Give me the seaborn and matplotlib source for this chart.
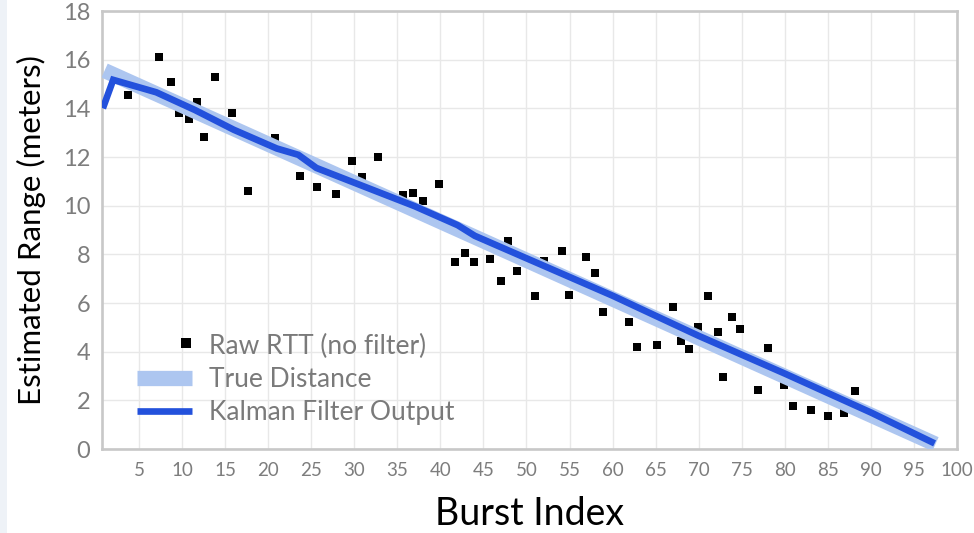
import matplotlib
matplotlib.use("Agg")
import matplotlib.pyplot as plt
from matplotlib.patches import Rectangle
from matplotlib.legend_handler import HandlerPathCollection
import seaborn as sns
import pandas as pd

# ---- data ----
raw_x = [3.7, 7.3, 8.7, 9.6, 10.85, 11.7, 12.5, 13.8, 15.8, 17.6, 20.8, 23.7, 25.7,
         27.85, 29.75, 30.9, 32.8, 35.7, 36.8, 38.0, 39.8, 41.65, 42.9, 43.9, 45.8,
         47.0, 47.9, 48.9, 50.95, 52.0, 54.1, 54.9, 56.9, 57.9, 58.9, 61.95, 62.85,
         65.1, 67.0, 67.9, 68.9, 69.9, 71.1, 72.2, 72.8, 73.9, 74.8, 76.9, 78.0,
         79.9, 80.95, 83.0, 85.0, 86.9, 88.1]
raw_y = [14.54, 16.13, 15.10, 13.82, 13.57, 14.27, 12.84, 15.30, 13.82, 10.60, 12.78,
         11.21, 10.76, 10.47, 11.85, 11.17, 11.98, 10.43, 10.54, 10.19, 10.91, 7.67,
         8.05, 7.68, 7.80, 6.91, 8.54, 7.33, 6.27, 7.74, 8.12, 6.34, 7.88, 7.25, 5.62,
         5.22, 4.20, 4.26, 5.85, 4.45, 4.11, 5.02, 6.27, 4.79, 2.94, 5.41, 4.94, 2.41,
         4.16, 2.64, 1.78, 1.59, 1.37, 1.48, 2.39]

true_x = [1.0, 97.5]
true_y = [15.55, 0.20]

kalman_x = [0.8, 2.0, 7.0, 11.5, 16.0, 21.0, 23.5, 25.6, 37.0, 42.0, 44.0, 60.0, 70.0,
            80.0, 90.0, 97.4]
kalman_y = [14.0, 15.17, 14.66, 13.93, 13.12, 12.35, 12.09, 11.55, 9.98, 9.20, 8.76,
            6.30, 4.65, 3.10, 1.50, 0.23]

x_ticks = [5, 10, 15, 20, 25, 30, 35, 40, 45, 50, 55, 60, 65, 70, 75, 80, 85, 90, 95, 100]
y_ticks = [0, 2, 4, 6, 8, 10, 12, 14, 16, 18]

labels = ["Raw RTT (no filter)", "True Distance", "Kalman Filter Output"]

# ---- style ----
sns.set_theme(style="whitegrid")
plt.rcParams["font.family"] = ["Lato", "DejaVu Sans"]

BAND = "#adc6f0"
KAL = "#2351dc"
GRID = "#e8e8e8"
SPINE = "#c8c8c8"
TICKC = "#7d7d7d"

fig = plt.figure(figsize=(9.74, 5.33), dpi=100)
fig.patch.set_facecolor("white")
fig.add_artist(Rectangle((0, 0), 7 / 974, 1, transform=fig.transFigure,
                         facecolor="#eef2f7", edgecolor="none", zorder=-10))
ax = fig.add_axes([102 / 974, 1 - 449 / 533, 855 / 974, 438 / 533])
ax.set_facecolor("white")

raw_df = pd.DataFrame({"x": raw_x, "y": raw_y})
true_df = pd.DataFrame({"x": true_x, "y": true_y})
kal_df = pd.DataFrame({"x": kalman_x, "y": kalman_y})

sns.scatterplot(data=raw_df, x="x", y="y", ax=ax, marker="s", s=30, color="black",
                linewidth=0, zorder=2, label=labels[0], legend=False)
sns.lineplot(data=true_df, x="x", y="y", ax=ax, color=BAND, linewidth=11,
             solid_capstyle="butt", sort=False, zorder=3, label=labels[1], legend=False)
sns.lineplot(data=kal_df, x="x", y="y", ax=ax, color=KAL, linewidth=4.8,
             solid_capstyle="butt", solid_joinstyle="miter", sort=False, zorder=4,
             label=labels[2], legend=False)

ax.set_xlim(0.7, 100)
ax.set_ylim(0, 18)
ax.set_xticks(x_ticks)
ax.set_yticks(y_ticks)
ax.grid(True, color=GRID, linewidth=1.0)
ax.set_axisbelow(True)
for sp in ax.spines.values():
    sp.set_visible(True)
    sp.set_color(SPINE)
    sp.set_linewidth(1.9)

ax.tick_params(axis="y", length=0, pad=8.5, labelsize=17, labelcolor=TICKC)
ax.tick_params(axis="x", length=0, pad=9.5, labelsize=13.5, labelcolor=TICKC)

ax.set_xlabel("Burst Index", fontsize=27, color="black", labelpad=12)
ax.set_ylabel("Estimated Range (meters)", fontsize=22.5, color="black", labelpad=12)

handles = [ax.collections[0], ax.lines[0], ax.lines[1]]
leg = ax.legend(handles, labels, loc="upper left", bbox_to_anchor=(0.041, 0.262),
                frameon=False, fontsize=19, labelcolor="#7a7a7a", handlelength=2.1,
                handletextpad=0.64, borderpad=0, borderaxespad=0, labelspacing=0.3,
                scatteryoffsets=[0.6],
                handler_map={type(ax.collections[0]): HandlerPathCollection(xpad=1.6)})
leg.legend_handles[0].set_sizes([60])

fig.savefig("out.png", dpi=100)
